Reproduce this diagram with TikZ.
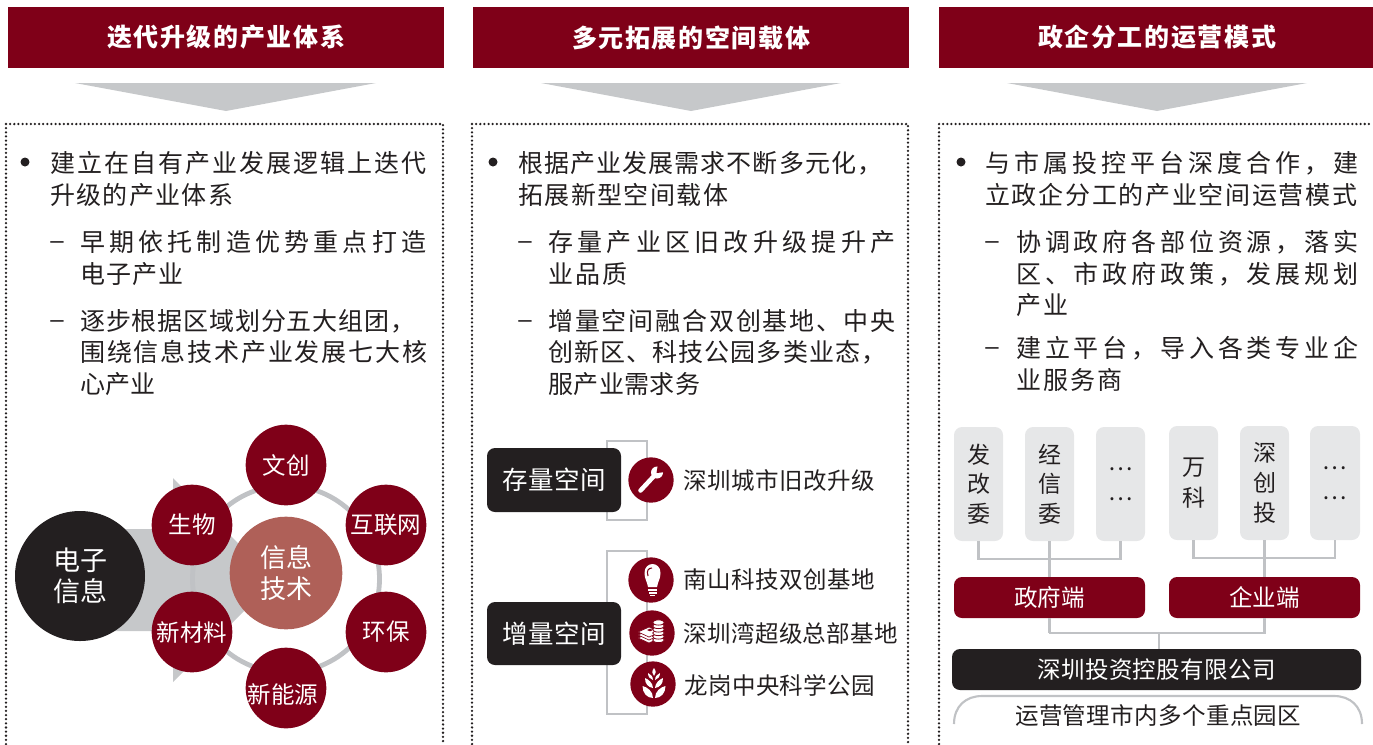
\documentclass[tikz,border=0pt]{standalone}
\usepackage{fontspec}
\setmainfont{Noto Sans CJK SC}
\newfontfamily\latinf{Liberation Sans}
\definecolor{wine}{HTML}{7F0018}
\definecolor{ink}{HTML}{231F20}
\definecolor{tri}{HTML}{C6C8CA}
\definecolor{rule}{HTML}{C0C2C5}
\definecolor{pale}{HTML}{E6E7E8}
\definecolor{rosy}{HTML}{AF6058}
\newdimen\pxu \pxu=.75pt
\makeatletter
\newcommand\jl[2]{\hbox to \dimexpr#1\pxu\relax{\@tfor\jx:=#2\do{\jx\hskip 0pt plus 1fil minus 1fil}\unskip}}
\makeatother
\newcommand\fs[1]{\fontsize{#1\pxu}{#1\pxu}\selectfont}
% justified text line: name, x, y, width, px size, text
\newcommand\tl[6]{\node[anchor=west,inner sep=0pt,text=ink] (#1) at (#2,#3) {\fs{#5}\jl{#4}{#6}};}
% box: name, x1, y1, x2, y2, style, text
\newcommand\bx[7]{\node[inner sep=0pt,#6,minimum width={(#4-#2)*0.75pt},minimum height={(#5-#3)*0.75pt}] (#1) at ({(#2+#4)/2},{(#3+#5)/2}) {#7};}
\tikzset{
  x=0.75pt,y=-0.75pt,
  header/.style={fill=wine,text=white,font=\fs{25}\bfseries},
  dotbox/.style={ink,line width=1.9pt,line cap=round,dash pattern=on 0pt off 3.1pt},
  conn/.style={rule,line width=1.6pt},
  roundbox/.style={rounded corners=6pt},
  blackbox/.style={roundbox,fill=ink,text=white},
  redbox/.style={roundbox,fill=wine,text=white,font=\fs{23.5}},
  palebox/.style={roundbox,fill=pale,text=ink,font=\fs{23},align=center},
  ball/.style={circle,fill=wine,text=white,inner sep=0pt,minimum size=60.5pt,font=\fs{23.5}},
  iconball/.style={circle,fill=wine,inner sep=0pt,minimum size=34pt},
  dashmark/.style={inner sep=0pt,text=ink,font=\latinf\fs{24}},
}
\begin{document}
\begin{tikzpicture}
\useasboundingbox (0,0) rectangle (1373,744);
\clip (0,0) rectangle (1373,744);
% headers
\bx{h1}{8}{7}{444}{68}{header}{\jl{238}{迭代升级的产业体系}}
\bx{h2}{473}{7}{909}{68}{header}{\jl{238}{多元拓展的空间载体}}
\bx{h3}{939}{7}{1375}{68}{header}{\jl{238}{政企分工的运营模式}}
% triangles
\fill[tri] (75,83) -- (376,83) -- (226,111) -- cycle;
\fill[tri] (541,83) -- (841,83) -- (691,111) -- cycle;
\fill[tri] (1007,83) -- (1307,83) -- (1157,111) -- cycle;
% dotted frames
\draw[dotbox] (6,744) -- (6,124) -- (443,124) -- (443,744);
\draw[dotbox] (472,744) -- (472,124) -- (908,124) -- (908,744);
\draw[dotbox] (939,744) -- (939,124) -- (1373,124);
% bullets
\fill[ink] (25,162) circle (4.5);
\fill[ink] (493,162) circle (4.5);
\fill[ink] (961,162) circle (4.5);
% column 1 text
\tl{a1}{50}{163}{376}{25}{建立在自有产业发展逻辑上迭代}
\tl{a2}{50}{195}{183}{25}{升级的产业体系}
\node[dashmark] (ad1) at (57,245) {–};
\tl{a3}{80}{242}{346}{25}{早期依托制造优势重点打造}
\tl{a4}{80}{274}{103}{25}{电子产业}
\node[dashmark] (ad2) at (57,324) {–};
\tl{a5}{80}{321}{335}{25}{逐步根据区域划分五大组团，}
\tl{a6}{80}{352}{347}{25}{围绕信息技术产业发展七大核}
\tl{a7}{80}{384}{75}{25}{心产业}
% column 2 text
\tl{b1}{518}{163}{364}{25}{根据产业发展需求不断多元化，}
\tl{b2}{518}{195}{210}{25}{拓展新型空间载体}
\node[dashmark] (bd1) at (525,245) {–};
\tl{b3}{548}{242}{347}{25}{存量产业区旧改升级提升产}
\tl{b4}{548}{274}{79}{25}{业品质}
\node[dashmark] (bd2) at (525,324) {–};
\tl{b5}{548}{321}{347}{25}{增量空间融合双创基地、中央}
\tl{b6}{548}{352}{338}{25}{创新区、科技公园多类业态，}
\tl{b7}{548}{384}{152}{25}{服产业需求务}
% column 3 text
\tl{c1}{985}{163}{373}{25}{与市属投控平台深度合作，建}
\tl{c2}{985}{195}{372}{25}{立政企分工的产业空间运营模式}
\node[dashmark] (cd1) at (992,245) {–};
\tl{c3}{1016}{242}{342}{25}{协调政府各部位资源，落实}
\tl{c4}{1016}{274}{342}{25}{区、市政府政策，发展规划}
\tl{c5}{1016}{305}{52}{25}{产业}
\node[dashmark] (cd2) at (992,351) {–};
\tl{c6}{1016}{348}{342}{25}{建立平台，导入各类专业企}
\tl{c7}{1016}{380}{106}{25}{业服务商}
% column 1 graphic
\fill[tri] (80,529) -- (173,529) -- (173,478) -- (275,580) -- (173,682) -- (173,631) -- (80,631) -- cycle;
\draw[rule,line width=3.6pt] (286,579) circle (93.5);
\node[circle,fill=ink,text=white,inner sep=0pt,minimum size=97.5pt,align=center,font=\fs{27}] (core) at (80,576) {电子\\[3pt]信息};
\node[circle,fill=rosy,text=white,inner sep=0pt,minimum size=84.5pt,align=center,font=\fs{26}] (hub) at (286,573) {信息\\[4pt]技术};
\node[ball] (s1) at (286,465) {文创};
\node[ball] (s2) at (386,525) {互联网};
\node[ball] (s3) at (386,632) {环保};
\node[ball] (s4) at (286,688) {};
\node[inner sep=0pt,text=white,font=\fs{23.5}] (s4t) at (283,695) {新能源};
\node[ball] (s5) at (192,632) {新材料};
\node[ball] (s6) at (192,525) {生物};
% column 2 graphic
\draw[conn] (607,441) rectangle (647,520);
\draw[conn] (607,551) rectangle (647,714);
\bx{k1}{487}{448}{621}{512}{blackbox,font=\fs{25.5}}{\jl{104}{存量空间}}
\bx{k2}{487}{602}{621}{665}{blackbox,font=\fs{25.5}}{\jl{104}{增量空间}}
\node[iconball] (i1) at (651,480) {};
\node[iconball] (i2) at (651,580) {};
\node[iconball] (i3) at (652,633) {};
\node[iconball] (i4) at (653,684) {};
% wrench
\draw[white,line width=3.4pt,line cap=round] (640.5,490.5) -- (654,476);
\fill[white] (657,472.5) circle (6);
\fill[wine] (656.5,473) -- (658,464) -- (666,472) -- cycle;
% bulb
\fill[white] (648,587) .. controls (647,581) and (644.5,579) .. (644.5,573) .. controls (644.5,561) and (660.5,561) .. (660.5,573) .. controls (660.5,579) and (658,581) .. (657,587) -- cycle;
\draw[wine,line width=.8pt] (648,576) .. controls (646,570) and (649,568) .. (652,568);
\fill[white] (648,588.5) rectangle (657,590.5);
\fill[white] (648.5,591.5) rectangle (656.5,593.5);
\fill[white] (650,594.5) rectangle (655,596);
% money
\foreach \yy in {638,635,632}{
  \filldraw[fill=white,draw=wine,line width=.5pt] (638,\yy) -- (649,\yy-5) -- (660,\yy) -- (649,\yy+5) -- cycle;
}
\fill[wine] (647,630) -- (650,628.7) -- (653,630) -- (650,631.3) -- cycle;
\foreach \yy in {640,636.5,633,629.5,626,622.5}{
  \filldraw[fill=white,draw=wine,line width=.6pt] (658.5,\yy) ellipse (5.8 and 2.6);
}
% plant
\fill[white] (654,668) .. controls (651.5,671) and (652,674) .. (654,676) .. controls (656,674) and (656.5,671) .. (654,668) -- cycle;
\foreach \sx in {-1,1}{
  \fill[white] (654+\sx*1,680) .. controls (654+\sx*1,676) and (654+\sx*4,674) .. (654+\sx*6,673) .. controls (654+\sx*6,677) and (654+\sx*4,679) .. (654+\sx*1,680) -- cycle;
  \fill[white] (654+\sx*1,688) .. controls (654+\sx*1,683) and (654+\sx*6,679) .. (654+\sx*9,678) .. controls (654+\sx*9,684) and (654+\sx*6,687) .. (654+\sx*1,688) -- cycle;
  \fill[white] (654+\sx*1,698) .. controls (654+\sx*1,691) and (654+\sx*7,687) .. (654+\sx*11.5,686) .. controls (654+\sx*11.5,693) and (654+\sx*7,698) .. (654+\sx*1,698) -- cycle;
}
\tl{l1}{683}{481}{192}{23.5}{深圳城市旧改升级}
\tl{l2}{683}{580}{192}{23.5}{南山科技双创基地}
\tl{l3}{683}{633}{215}{23.5}{深圳湾超级总部基地}
\tl{l4}{684}{685}{191}{23.5}{龙岗中央科学公园}
% column 3 graphic
\bx{g1}{954}{427}{1003}{541}{palebox}{发\\[5pt]改\\[5pt]委}
\bx{g2}{1025}{427}{1074}{541}{palebox}{经\\[5pt]信\\[5pt]委}
\bx{g3}{1096}{427}{1145}{541}{palebox}{…\\[5pt]…}
\bx{e1}{1169}{426}{1218}{540}{palebox}{万\\[6pt]科}
\bx{e2}{1240}{426}{1289}{540}{palebox}{深\\[5pt]创\\[5pt]投}
\bx{e3}{1310}{426}{1360}{540}{palebox}{…\\[5pt]…}
\bx{gov}{954}{577}{1145}{618}{redbox}{\jl{70}{政府端}}
\bx{ent}{1169}{577}{1360}{618}{redbox}{\jl{70}{企业端}}
\bx{sz}{952}{649}{1361}{690}{blackbox,font=\fs{23.5}}{\jl{238}{深圳投资控股有限公司}}
\draw[conn] (g1.south) |- (979,559) -| (g3.south);
\draw[conn] (g2.south) -- (gov.north);
\draw[conn] (e1.south) |- (1194,558) -| (e3.south);
\draw[conn] (e2.south) -- (ent.north);
\draw[conn] (gov.south) |- (1049,633) -| (ent.south);
\coordinate (jn) at (1159,633);
\draw[conn] (jn) -- (jn |- sz.north);
\draw[conn] (954,724) .. controls (954,706) and (966,696) .. (982,696) -- (1334,696) .. controls (1350,696) and (1362,706) .. (1362,724);
\tl{sp}{1015}{716}{286}{23.5}{运营管理市内多个重点园区}
\end{tikzpicture}
\end{document}
